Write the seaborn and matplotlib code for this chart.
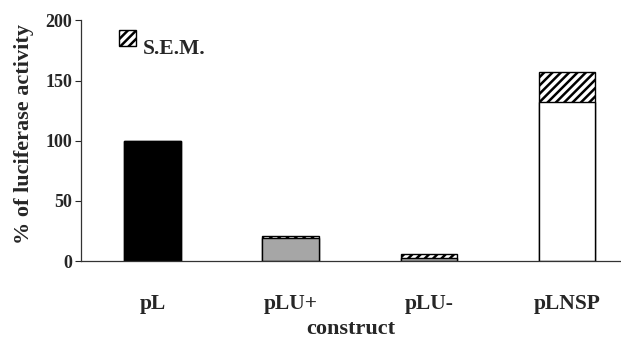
"""Luciferase activity per construct, with S.E.M. stacked as hatched caps."""
import matplotlib

matplotlib.use("Agg")
import matplotlib.pyplot as plt
from matplotlib.legend_handler import HandlerPatch
from matplotlib.patches import Patch, Rectangle
import pandas as pd
import seaborn as sns

# Data
constructs = ["pL", "pLU+", "pLU-", "pLNSP"]
mean_activity = [100, 19, 3, 132]
sem_activity = [0, 2, 3, 25]
bar_colors = ["#000000", "#a6a6a6", "#a6a6a6", "#ffffff"]

sns.set_style("white")
plt.rcParams["font.family"] = ["Liberation Serif", "DejaVu Serif"]
plt.rcParams["font.weight"] = "bold"
plt.rcParams["hatch.linewidth"] = 1.8

df = pd.DataFrame({
    "construct": constructs,
    "mean": mean_activity,
    "top": [m + s for m, s in zip(mean_activity, sem_activity)],
})

fig, ax = plt.subplots(figsize=(6.21, 3.40), dpi=100)

# hatched S.E.M. part: draw mean+sem first, then the mean on top of it
sns.barplot(data=df, x="construct", y="top", color="white", width=0.41,
            edgecolor="black", linewidth=1.0, hatch="////", ax=ax)
sns.barplot(data=df, x="construct", y="mean", hue="construct",
            palette=bar_colors, legend=False, width=0.41,
            edgecolor="black", linewidth=1.0, ax=ax)

ax.set_xlim(-0.52, 3.39)
ax.set_ylim(0, 200)
ax.set_yticks([0, 50, 100, 150, 200])
ax.tick_params(axis="y", length=4, width=0.8, labelsize=13, pad=2, left=True)
ax.tick_params(axis="x", length=0, labelsize=15.5, pad=24)
for lbl in ax.get_xticklabels() + ax.get_yticklabels():
    lbl.set_fontweight("bold")

ax.set_xlabel("construct", fontsize=16, fontweight="bold", labelpad=3)
ax.set_ylabel("% of luciferase activity", fontsize=16, fontweight="bold")
ax.yaxis.set_label_coords(-0.087, 0.53)

sns.despine(ax=ax)
for side in ["left", "bottom"]:
    ax.spines[side].set_color("#333333")
    ax.spines[side].set_linewidth(0.9)


def raised_square(legend, orig_handle, xdescent, ydescent, width, height,
                  fontsize):
    # legend key sits a bit above the text baseline, as in the original
    return Rectangle((-xdescent, -ydescent + 6.5), width, height)


handle = Patch(facecolor="white", edgecolor="black", hatch="////",
               label="S.E.M.")
ax.legend(handles=[handle], loc="upper left", bbox_to_anchor=(0.035, 1.005),
          frameon=False, handlelength=0.78, handleheight=0.78,
          handletextpad=0.33, prop={"weight": "bold", "size": 15.5},
          handler_map={Patch: HandlerPatch(patch_func=raised_square)})

fig.subplots_adjust(left=0.13, right=1.0, top=0.94, bottom=0.232)
fig.savefig("out.png", dpi=100)
